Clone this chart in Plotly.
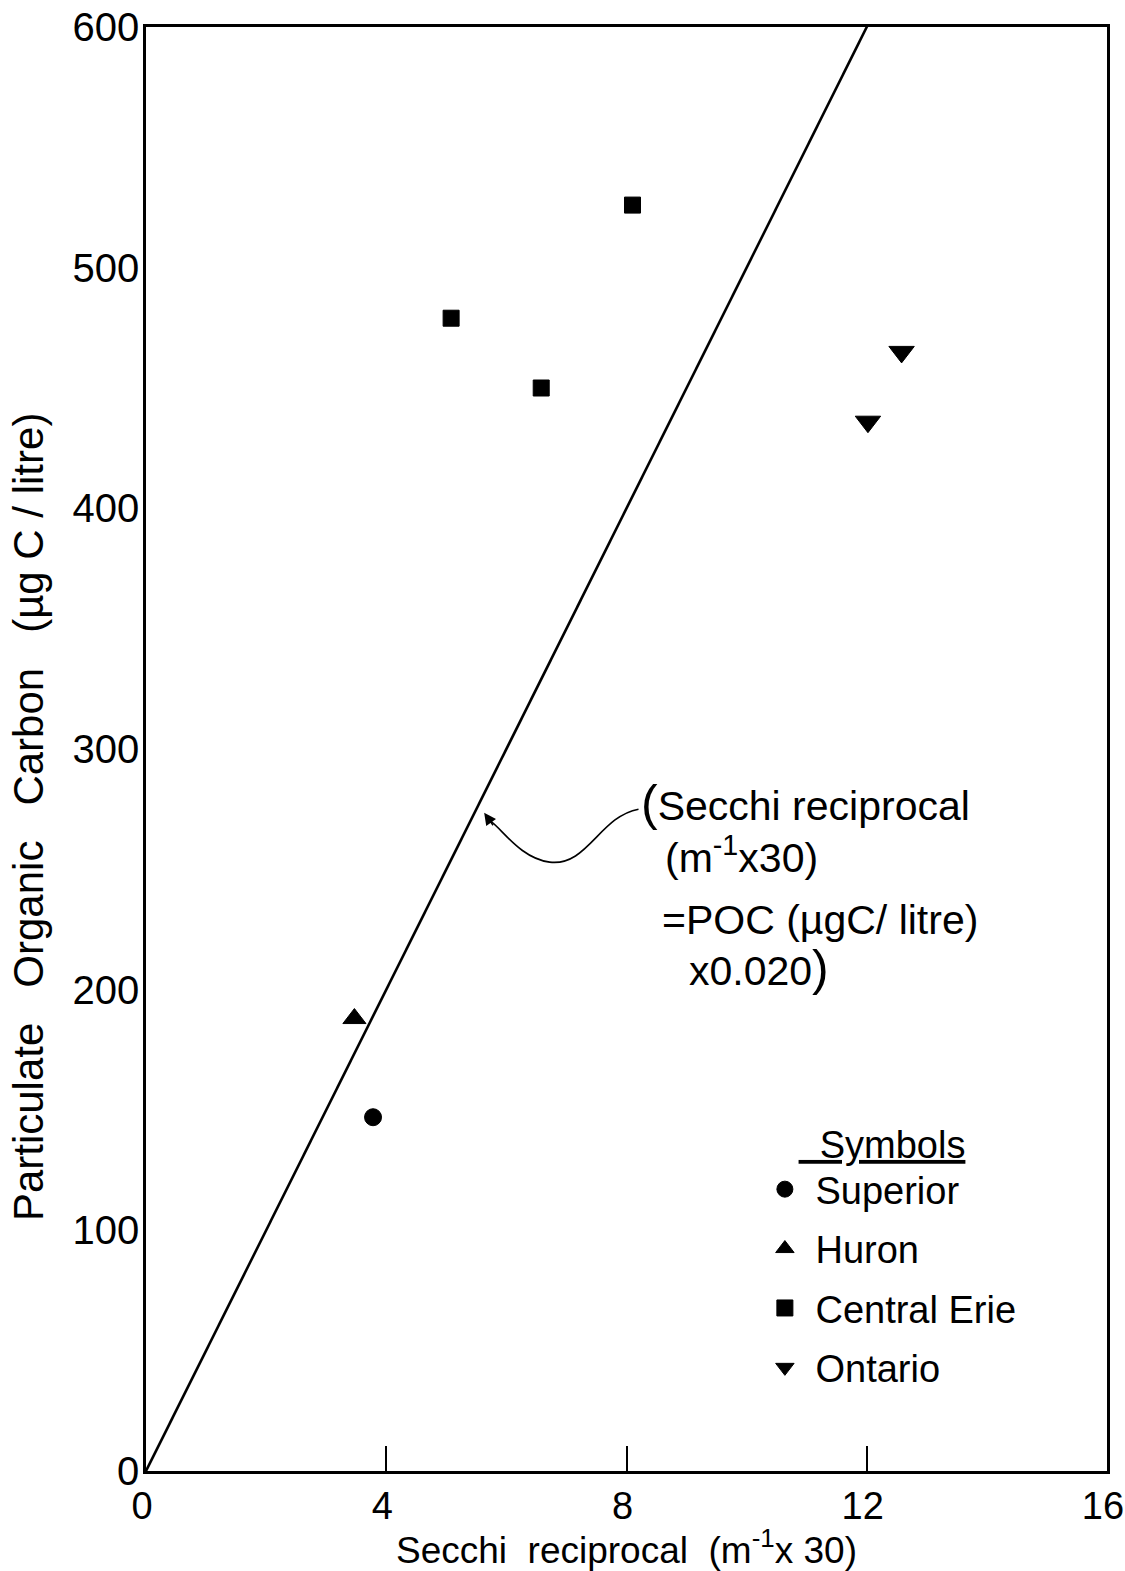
import plotly.graph_objects as go

# Data
superior_x = [3.78]
superior_y = [147]
huron_x = [3.47]
huron_y = [188]
erie_x = [5.08, 6.58, 8.1]
erie_y = [479, 450, 526]
ontario_x = [12.02, 12.58]
ontario_y = [436, 465]
line_x = [0, 12.1]
line_y = [0, 605]

x_ticks = [0, 4, 8, 12, 16]
y_ticks = [0, 100, 200, 300, 400, 500, 600]

FONT = "Liberation Sans"
nb = "\u00a0"

fig = go.Figure()
fig.add_trace(go.Scatter(x=line_x, y=line_y, mode="lines",
                         line=dict(color="black", width=2.6), showlegend=False, hoverinfo="skip"))

series = [
    ("Superior", superior_x, superior_y, "circle", 17),
    ("Huron", huron_x, huron_y, "triangle-up", 20),
    ("Central Erie", erie_x, erie_y, "square", 16),
    ("Ontario", ontario_x, ontario_y, "triangle-down", 22),
]
for i, (name, xs, ys, sym, sz) in enumerate(series):
    fig.add_trace(go.Scatter(x=xs, y=ys, mode="markers", name=nb + name,
                             legendgroup=f"g{i}",
                             marker=dict(symbol=sym, size=sz, color="black",
                                         line=dict(color="black", width=1))))

# curved arrow (annotation leader)
fig.add_shape(type="path",
              path="M 8.2,275 C 7.55,272 7.35,251 6.72,253 C 6.25,254.5 5.95,266 5.74,270",
              xref="x", yref="y", line=dict(color="black", width=1.6))
fig.add_annotation(x=5.63, y=273.5, xref="x", yref="y", ax=10, ay=14, text="",
                   showarrow=True, arrowhead=2, arrowsize=1.6, arrowwidth=1.5, arrowcolor="black")

AF = 41
big = '<span style="font-size:50px">'
fig.add_annotation(x=8.2, y=277.5, xref="x", yref="y", xanchor="left", yanchor="middle",
                   text=big + "(</span>Secchi" + nb + "reciprocal", showarrow=False,
                   font=dict(family=FONT, size=AF, color="black"))
fig.add_annotation(x=8.6, y=256, xref="x", yref="y", xanchor="left", yanchor="middle",
                   text="(m<sup>-1</sup>x30)", showarrow=False,
                   font=dict(family=FONT, size=AF, color="black"))
fig.add_annotation(x=8.55, y=229, xref="x", yref="y", xanchor="left", yanchor="middle",
                   text="=POC" + nb + "(µgC/" + nb + "litre)", showarrow=False,
                   font=dict(family=FONT, size=AF, color="black"))
fig.add_annotation(x=9.0, y=209, xref="x", yref="y", xanchor="left", yanchor="middle",
                   text="x0.020" + big + ")</span>", showarrow=False,
                   font=dict(family=FONT, size=AF, color="black"))

# y title
fig.add_annotation(xref="paper", yref="paper", x=-0.1215, y=0.453, textangle=-90,
                   xanchor="center", yanchor="middle",
                   text="Particulate" + nb*3 + "Organic" + nb*3 + "Carbon" + nb*3 + "(µg" + nb + "C" + nb + "/" + nb + "litre)",
                   showarrow=False, font=dict(family=FONT, size=42, color="black"))

fig.update_layout(
    width=1125, height=1571,
    margin=dict(l=146, r=18, t=27, b=100),
    paper_bgcolor="white", plot_bgcolor="white",
    font=dict(family=FONT, size=38, color="black"),
    xaxis=dict(range=[0, 16], tickvals=x_ticks, ticks="inside", ticklen=25, tickwidth=1.5,
               tickcolor="black", showline=True, linecolor="black", linewidth=2.5, mirror=True,
               showgrid=False, zeroline=False, ticklabeloverflow="allow", automargin=False,
               ticklabelshift=-4,
               title=dict(text="Secchi" + nb*2 + "reciprocal" + nb*2 + "(m<sup>-1</sup>x" + nb + "30)",
                          font=dict(size=37), standoff=4),
               tickfont=dict(size=38)),
    yaxis=dict(range=[0, 600], tickvals=y_ticks, ticks="", showline=True, linecolor="black",
               linewidth=2.5, mirror=True, showgrid=False, zeroline=False, automargin=False,
               tickfont=dict(size=40), ticklabelstandoff=-4),
    legend=dict(x=0.644, y=0.251, xanchor="left", yanchor="top",
                title=dict(text=nb*3 + '<span style="text-decoration:underline">' + nb*2 + 'Symbols</span>',
                           font=dict(size=38), side="top"),
                font=dict(size=38), traceorder="grouped", tracegroupgap=7,
                bgcolor="rgba(0,0,0,0)", itemwidth=30),
    showlegend=True,
)

fig.write_html("out.html")
